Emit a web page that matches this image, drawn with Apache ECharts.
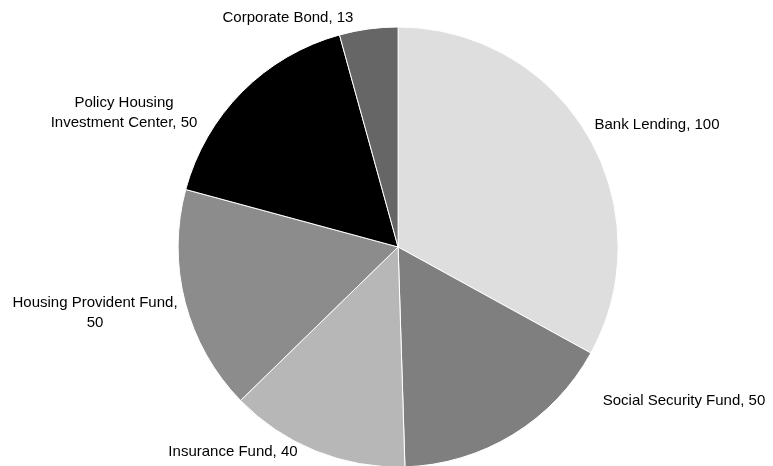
<!DOCTYPE html>
<html>
<head>
<meta charset="utf-8">
<script src="https://cdn.jsdelivr.net/npm/echarts@6/dist/echarts.min.js"></script>
<style>
  html, body { margin: 0; padding: 0; background: #fff; }
  #chart { width: 773px; height: 466px; }
</style>
</head>
<body>
<div id="chart"></div>
<script>
// Funding sources (clockwise from 12 o'clock)
const categories = [
  'Bank Lending',
  'Social Security Fund',
  'Insurance Fund',
  'Housing Provident Fund',
  'Policy Housing Investment Center',
  'Corporate Bond'
];
const values = [100, 50, 40, 50, 50, 13];

// Slice fills, grayscale
const sliceColors = ['#dfdedf', '#7f7f7f', '#b8b7b8', '#8c8c8c', '#000000', '#666666'];

// Label text with the line breaks used for the longer names
const labelText = [
  'Bank Lending, 100',
  'Social Security Fund, 50',
  'Insurance Fund, 40',
  'Housing Provident Fund,\n50',
  'Policy Housing\nInvestment Center, 50',
  'Corporate Bond, 13'
];

// Label anchor points (centre of each text block)
const labelAnchors = [
  [657, 125],
  [684, 401],
  [233, 452],
  [95, 313],
  [124, 113],
  [288, 18]
];

const chart = echarts.init(document.getElementById('chart'), null, { renderer: 'canvas' });

chart.setOption({
  animation: false,
  backgroundColor: '#ffffff',
  series: [{
    type: 'pie',
    center: ['51.5%', '53%'],
    radius: [0, 220],
    startAngle: 90,
    clockwise: true,
    avoidLabelOverlap: false,
    itemStyle: { borderColor: '#ffffff', borderWidth: 1 },
    label: {
      show: true,
      position: 'outside',
      color: '#000000',
      fontFamily: 'Liberation Sans, Arial, sans-serif',
      fontSize: 15,
      lineHeight: 20,
      align: 'center',
      formatter: p => labelText[p.dataIndex]
    },
    labelLine: { show: false },
    labelLayout: p => ({
      x: labelAnchors[p.dataIndex][0],
      y: labelAnchors[p.dataIndex][1],
      align: 'center',
      verticalAlign: 'middle'
    }),
    emphasis: { disabled: true },
    data: categories.map((name, i) => ({
      name,
      value: values[i],
      itemStyle: { color: sliceColors[i] }
    }))
  }]
});
</script>
</body>
</html>
